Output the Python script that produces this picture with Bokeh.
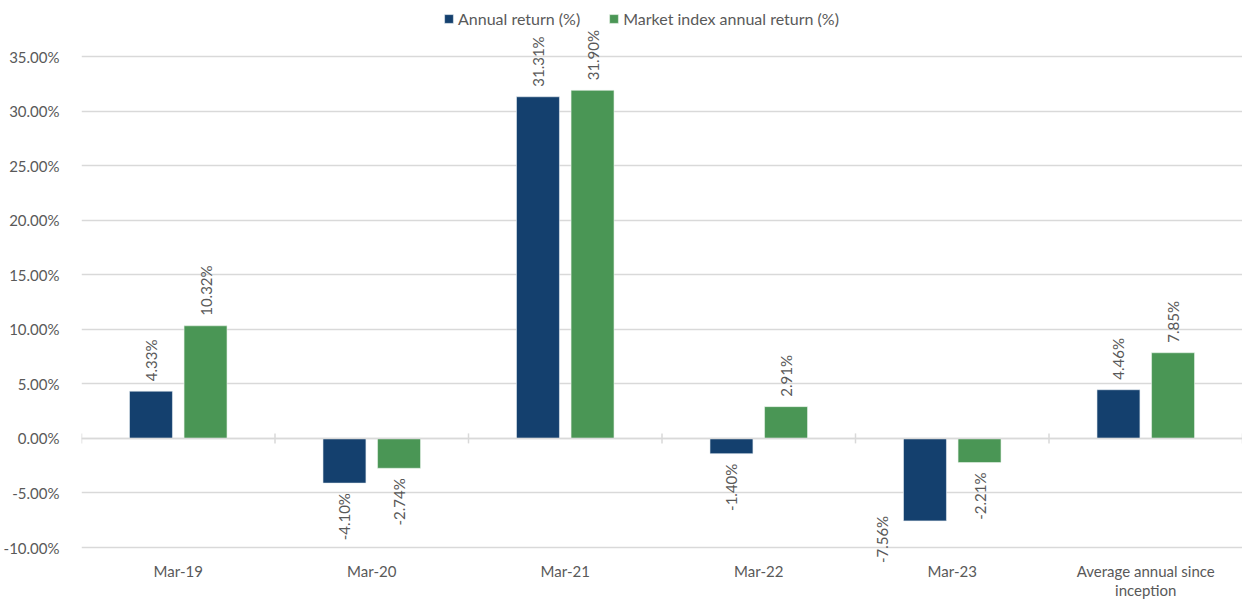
import math
from bokeh.plotting import figure
from bokeh.models import (ColumnDataSource, FactorRange, FixedTicker, PrintfTickFormatter,
                          Legend, LegendItem, Span)
from bokeh.transform import dodge
from bokeh.core.properties import value
from bokeh.embed import file_html
from bokeh.resources import INLINE

categories = ["Mar-19", "Mar-20", "Mar-21", "Mar-22", "Mar-23", "Average annual since inception"]
annual_return = [4.33, -4.10, 31.31, -1.40, -7.56, 4.46]
market_return = [10.32, -2.74, 31.90, 2.91, -2.21, 7.85]
series_names = ["Annual return (%)", "Market index annual return (%)"]
y_ticks = [-10, -5, 0, 5, 10, 15, 20, 25, 30, 35]

NAVY = "#14406E"
GREEN = "#4A9655"
TEXT = "#595959"
GRID = "#D9D9D9"
FONT = "Lato"

YMIN, YMAX = -10, 35
# layout (pixels): figure height, where the top / bottom gridlines sit
H = 599
TOP_PX, BOT_PX = 56, 547
upp = (YMAX - YMIN) / (BOT_PX - TOP_PX)  # data units per pixel
y_start = YMIN - (H - BOT_PX) * upp
y_end = YMAX + TOP_PX * upp

p = figure(x_range=FactorRange(*categories, range_padding=0), y_range=(y_start, y_end),
           width=1242, height=H, output_backend="svg", toolbar_location=None,
           min_border_left=70, min_border_right=0, min_border_top=0, min_border_bottom=0)
p.outline_line_color = None
p.background_fill_color = "white"

src = ColumnDataSource(dict(cat=categories, a=annual_return, m=market_return))
off = 0.141
w = 0.222
r1 = p.vbar(x=dodge("cat", -off, range=p.x_range), top="a", bottom=0, width=w, source=src,
            fill_color=NAVY, line_color="#E8EEF4", line_width=0.6)
r2 = p.vbar(x=dodge("cat", off, range=p.x_range), top="m", bottom=0, width=w, source=src,
            fill_color=GREEN, line_color="#E8F2EA", line_width=0.6)

# zero line with cross tick marks at category boundaries
p.add_layout(Span(location=0, dimension="width", line_color=GRID, line_width=1.5))
n = len(categories)
p.segment(x0=list(range(n + 1)), x1=list(range(n + 1)), y0=[-5 * upp] * (n + 1), y1=[5 * upp] * (n + 1),
          line_color=GRID, line_width=1.5)

# data labels
gap = 10 * upp
for vals, sign in ((annual_return, -1), (market_return, 1)):
    xs, ys, txt, aligns = [], [], [], []
    for i, v in enumerate(vals):
        x = i + 0.5 + sign * off
        t = f"{v:.2f}%"
        if v >= 0:
            y, al = v + gap, "left"
        else:
            y, al = v - gap, "right"
            # label would spill below the plot area: Excel moves it beside the bar
            if y - 50 * upp < YMIN:
                x = x - 0.22
                y = v + 5 * upp
        xs.append(x); ys.append(y); txt.append(t); aligns.append(al)
    p.text(x=xs, y=ys, text=txt, angle=math.pi / 2, text_align=aligns, text_baseline="middle",
           text_font=value(FONT), text_font_size="15px", text_color=TEXT)

# category labels (drawn as text below the plot area; the long one wraps)
cx, cy, ct = [], [], []
for i, c in enumerate(categories):
    if len(c) > 20:
        first, second = c.rsplit(" ", 1)
        cx += [i + 0.5, i + 0.5]
        cy += [YMIN - 23 * upp, YMIN - 42 * upp]
        ct += [first, second]
    else:
        cx.append(i + 0.5); cy.append(YMIN - 23 * upp); ct.append(c)
p.text(x=cx, y=cy, text=ct, text_align="center", text_baseline="middle",
       text_font=value(FONT), text_font_size="15px", text_color=TEXT)

# axes
p.xaxis.visible = False
p.yaxis.ticker = FixedTicker(ticks=y_ticks)
p.yaxis.formatter = PrintfTickFormatter(format="%.2f%%")
p.yaxis.axis_line_color = None
p.yaxis.major_tick_line_color = None
p.yaxis.minor_tick_line_color = None
p.yaxis.major_label_text_font = FONT
p.yaxis.major_label_text_font_size = "15px"
p.yaxis.major_label_text_color = TEXT
p.yaxis.major_label_standoff = 16

p.xgrid.grid_line_color = None
p.ygrid.grid_line_color = GRID
p.ygrid.grid_line_width = 1.5
p.ygrid.ticker = FixedTicker(ticks=y_ticks)

legend = Legend(items=[LegendItem(label=series_names[0], renderers=[r1]),
                       LegendItem(label=series_names[1], renderers=[r2])],
                orientation="horizontal", location=(362, H - 28),
                label_text_font=FONT, label_text_font_size="16px", label_text_color=TEXT,
                glyph_width=11, glyph_height=11, label_standoff=4, spacing=28,
                padding=0, margin=0, border_line_color=None, background_fill_alpha=0)
p.add_layout(legend)

open("out.html", "w").write(file_html(p, INLINE))
